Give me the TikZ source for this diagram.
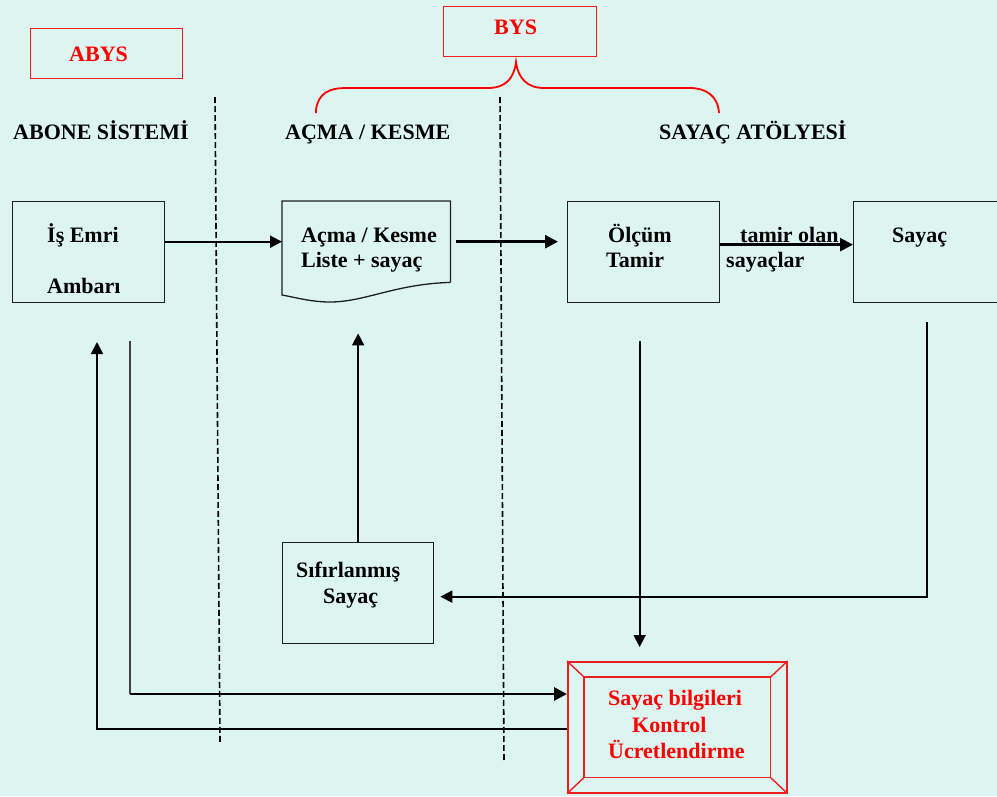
\documentclass[tikz,border=0pt]{standalone}
\usepackage{fontspec}
\setmainfont{Liberation Serif}
\usetikzlibrary{arrows.meta}
\definecolor{bg}{RGB}{221,245,240}
\definecolor{boxred}{RGB}{238,30,30}
\definecolor{txtred}{RGB}{255,0,0}
\definecolor{edge}{RGB}{30,30,30}
\begin{document}
\begin{tikzpicture}[x=1pt,y=-1pt,
  txt/.style={font=\fontsize{22}{25}\selectfont\bfseries, inner sep=0pt, anchor=base west, text=black},
  redtxt/.style={txt, text=txtred},
  blackbox/.style={draw=edge, line width=1.3pt, inner sep=0pt, anchor=north west, minimum width=#1},
  redbox/.style={draw=boxred, line width=1.6pt, inner sep=0pt, anchor=north west, minimum width=#1},
  arr/.style={-{Triangle[length=12pt,width=12pt]}, line width=1.8pt, draw=black},
  thickarr/.style={-{Triangle[length=13pt,width=13pt]}, line width=2.8pt, draw=black},
  thinline/.style={line width=1.4pt, draw=black!75},
  divider/.style={dash pattern=on 6pt off 3pt, line width=1.6pt, draw=black},
  brace/.style={draw=red, line width=1.8pt}
]
\useasboundingbox (0,0) rectangle (997,796);
\clip (0,0) rectangle (997,796);
\fill[bg] (0,0) rectangle (997,796);

% group boxes
\node[redbox=152pt, minimum height=50pt] (abys) at (29.5,27.5) {};
\node[redtxt] (abyst) at (69,61) {ABYS};
\node[redbox=153pt, minimum height=50pt] (bys) at (442.5,5.5) {};
\node[redtxt] (byst) at (494,34) {BYS};

% brace under BYS
\draw[brace] (316,113) -- (316,110) .. controls (318,93) and (330,88) .. (345,88)
  -- (488,88) .. controls (506,88) and (514,78) .. (516,62)
  .. controls (518,78) and (527,88) .. (544,88)
  -- (690,88) .. controls (706,88) and (718,96) .. (719,113);

% column headers
\node[txt] (h1) at (13,139) {ABONE SİSTEMİ};
\node[txt] (h2) at (285,139) {AÇMA / KESME};
\node[txt] (h3) at (659,139) {SAYAÇ ATÖLYESİ};

% dividers
\draw[divider] (215,97) -- (220,742);
\draw[divider] (500,97) -- (504,762);

% boxes
\node[blackbox=152pt, minimum height=101pt] (ise) at (12,201) {};
\node[txt] at (47,242) {İş Emri};
\node[txt] at (47,293) {Ambarı};

\node[inner sep=0pt, anchor=north west, minimum width=168pt, minimum height=81pt] (doc) at (282,201) {};
\draw[draw=edge, line width=1.3pt] (doc.south east) -- (doc.north east) -- (doc.north west) -- (282,295)
  .. controls (298,298) and (312,302) .. (330,302)
  .. controls (365,302) and (395,284) .. (doc.south east);
\node[txt] at (301,242) {Açma / Kesme};
\node[txt] at (301,267) {Liste + sayaç};

\node[blackbox=152pt, minimum height=101pt] (olc) at (567,201) {};
\node[txt] at (608,242) {Ölçüm};
\node[txt] at (606,267) {Tamir};

\node[blackbox=148pt, minimum height=101pt] (say) at (853,201) {};
\node[txt] at (892,242) {Sayaç};

\node[txt] (tl1) at (740,242) {tamir olan};
\node[txt] (tl2) at (726,267) {sayaçlar};

\node[blackbox=151pt, minimum height=101pt] (sif) at (282,542) {};
\node[txt] at (296,577) {Sıfırlanmış};
\node[txt] at (323,603) {Sayaç};

% bevelled result box
\node[redbox=219pt, minimum height=131pt] (bev) at (567,661) {};
\draw[draw=boxred, line width=1.4pt]
  ([shift={(17,16)}]bev.north west) -- ([shift={(-17,16)}]bev.north east)
  -- ([shift={(-17,-16)}]bev.south east) -- ([shift={(17,-16)}]bev.south west) -- cycle;
\draw[draw=boxred, line width=1.4pt] (bev.north west) -- ([shift={(17,16)}]bev.north west);
\draw[draw=boxred, line width=1.4pt] (bev.north east) -- ([shift={(-17,16)}]bev.north east);
\draw[draw=boxred, line width=1.4pt] (bev.south east) -- ([shift={(-17,-16)}]bev.south east);
\draw[draw=boxred, line width=1.4pt] (bev.south west) -- ([shift={(17,-16)}]bev.south west);
\node[redtxt] at (608,705) {Sayaç bilgileri};
\node[redtxt] at (632,732) {Kontrol};
\node[redtxt] at (608,758) {Ücretlendirme};

% connectors
\draw[arr] (ise.east |- doc.west) -- (doc.west);
\draw[thickarr, shorten <=6pt, shorten >=9pt] (doc.east) -- (olc.west |- doc.east);
\draw[thickarr] ([yshift=7.5pt]olc.east) -- ([yshift=7.5pt]say.west);
\draw[arr, shorten <=38pt, shorten >=14pt] ([xshift=-4pt]olc.south) -- ([xshift=-4pt]olc.south |- bev.north);
\draw[arr, shorten >=51pt] (sif.north) -- (sif.north |- doc.south);
\draw[arr, shorten >=6pt] (927,322) |- ([yshift=-3.5pt]sif.east);
\coordinate (retTop) at (97,342);
\draw[arr] ([yshift=-1.5pt]bev.west) -| (retTop);
\coordinate (feedTop) at (130,341);
\coordinate (feedBot) at (130,694);
\draw[thinline] (feedTop) -- (feedBot);
\draw[thickarr] (feedBot) -- (bev.west |- feedBot);
\end{tikzpicture}
\end{document}
